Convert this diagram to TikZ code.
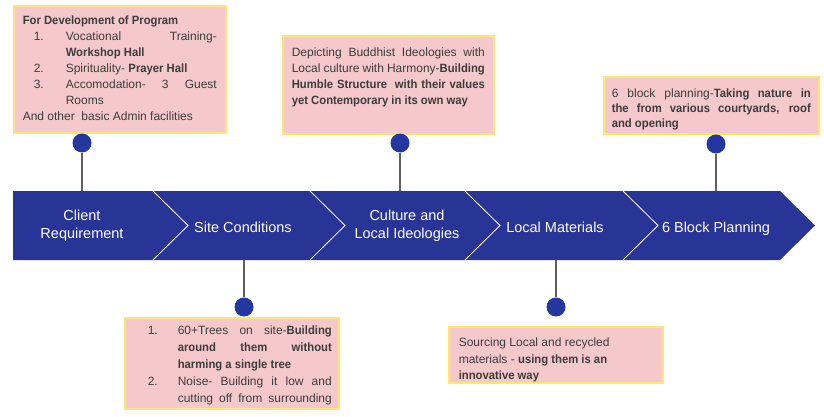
\documentclass[tikz,border=0pt]{standalone}
\usepackage{fontspec}
\setmainfont[BoldFeatures={FakeStretch=0.94}]{Liberation Sans}
\definecolor{bandblue}{RGB}{40,52,150}
\definecolor{dotblue}{RGB}{36,54,160}
\definecolor{boxpink}{RGB}{245,200,204}
\definecolor{boxedge}{RGB}{255,230,115}
\definecolor{txtgray}{RGB}{60,60,60}
\definecolor{stemgray}{RGB}{95,95,95}
% justified / ragged single lines
\newcommand\pj[1]{\noindent\makebox[\linewidth][s]{#1}\par}
\newcommand\pr[1]{\noindent\makebox[\linewidth][l]{#1}\par}
% numbered lines: #1 number offset, #2 text offset, #3 number, #4 text
\newcommand\nj[4]{\noindent\hspace*{#1}\makebox[\dimexpr#2-#1\relax][l]{#3}\makebox[\dimexpr\linewidth-#2\relax][s]{#4}\par}
\newcommand\nr[4]{\noindent\hspace*{#1}\makebox[\dimexpr#2-#1\relax][l]{#3}\makebox[\dimexpr\linewidth-#2\relax][l]{#4}\par}
\tikzset{
  lbl/.style={text=white, align=center, font=\fontsize{14.5}{18}\selectfont, inner sep=0pt},
  infobox/.style={draw=boxedge, line width=1.6pt, fill=boxpink, anchor=north west,
    text=txtgray, font=\fontsize{12}{16}\selectfont},
  dot/.style={circle, fill=dotblue, minimum size=19pt, inner sep=0pt},
  stem/.style={draw=stemgray, line width=1.2pt},
  sep/.style={draw=white, line width=0.8pt}
}
\begin{document}
\begin{tikzpicture}[x=1pt,y=-1pt]
\useasboundingbox (0,0) rectangle (824,417);
% band
\fill[bandblue] (13,191) -- (780,191) -- (815,225.5) -- (780,260) -- (13,260) -- cycle;
\foreach \x in {153,310,465,623}
  \draw[sep] (\x,191) -- (\x+35,225.5) -- (\x,260);
% labels
\node[lbl] (l1) at (82,226) {Client\\Requirement};
\node[lbl, anchor=base] (l2) at (243,232) {Site Conditions};
\node[lbl] (l3) at (407,226) {Culture and\\Local Ideologies};
\node[lbl, anchor=base] (l4) at (555,232) {Local Materials};
\node[lbl, anchor=base] (l5) at (716,232) {6 Block Planning};
% stem anchor points on band
\coordinate (s1) at (82,191);
\coordinate (s2) at (244,260);
\coordinate (s3) at (400,191);
\coordinate (s4) at (556,260);
\coordinate (s5) at (716,191);
% boxes
\node[infobox, inner xsep=9pt, inner ysep=10.5pt] (b1) at (13,5)
  {\parbox[c][106pt][t]{194pt}{%
   \pr{\textbf{For Development of Program}}
   \nj{11pt}{43pt}{1.}{Vocational Training-}
   \nr{11pt}{43pt}{}{\textbf{Workshop Hall}}
   \nr{11pt}{43pt}{2.}{Spirituality- \textbf{Prayer Hall}}
   \nj{11pt}{43pt}{3.}{Accomodation- 3 Guest}
   \nr{11pt}{43pt}{}{Rooms}
   \pr{And other\ \ basic Admin facilities}}};
\node[infobox, inner xsep=9pt, inner ysep=12.5pt] (b2) at (282,35)
  {\parbox[c][73pt][t]{193pt}{%
   \pj{Depicting Buddhist Ideologies with}
   \pj{Local culture with Harmony-\textbf{Building}}
   \pj{\textbf{Humble Structure\ \ with their values}}
   \pr{\textbf{yet Contemporary in its own way}}}};
\node[infobox, inner xsep=8pt, inner ysep=12pt, font=\fontsize{12}{15}\selectfont] (b3) at (603,76)
  {\parbox[c][33pt][t]{199pt}{%
   \pj{6 block planning-\textbf{Taking nature in}}
   \pj{\textbf{the from various courtyards, roof}}
   \pr{\textbf{and opening}}}};
\node[infobox, inner xsep=7pt, inner ysep=8.5pt, font=\fontsize{12}{16.8}\selectfont] (b4) at (124,317)
  {\parbox[c][74pt][t]{200pt}{%
   \nj{16pt}{46pt}{1.}{60+Trees on site-\textbf{Building}}
   \nj{16pt}{46pt}{}{\textbf{around them without}}
   \nr{16pt}{46pt}{}{\textbf{harming a single tree}}
   \nj{16pt}{46pt}{2.}{Noise- Building it low and}
   \nj{16pt}{46pt}{}{cutting off from surrounding}}};
\node[infobox, inner xsep=10pt, inner ysep=11pt, font=\fontsize{12}{16.7}\selectfont] (b5) at (448,326)
  {\parbox[c][34pt][t]{194pt}{%
   \pr{Sourcing Local and recycled}
   \pr{materials - \textbf{using them is an}}
   \pr{\textbf{innovative way}}}};
% dots
\node[dot] (d1) at (82,143) {};
\node[dot] (d2) at (244,307) {};
\node[dot] (d3) at (400,143) {};
\node[dot] (d4) at (556,307) {};
\node[dot] (d5) at (716,144) {};
% stems
\draw[stem] (d1) -- (s1);
\draw[stem] (d2) -- (s2);
\draw[stem] (d3) -- (s3);
\draw[stem] (d4) -- (s4);
\draw[stem] (d5) -- (s5);
\end{tikzpicture}
\end{document}
